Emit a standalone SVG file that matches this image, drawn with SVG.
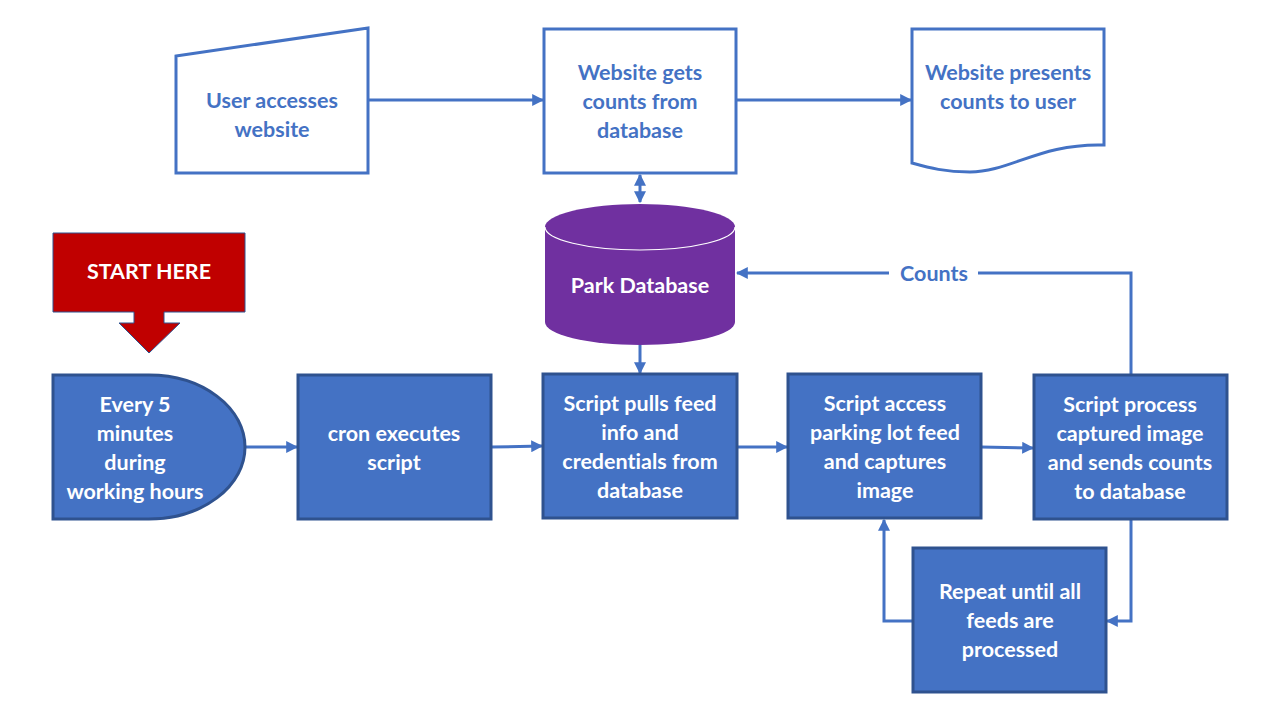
<svg xmlns="http://www.w3.org/2000/svg" width="1280" height="720" viewBox="0 0 1280 720">
<defs>
<style>
.ol{fill:#fff;stroke:#4472C4;stroke-width:3}
.bx{fill:#4472C4;stroke:#2F528F;stroke-width:3}
.tb{font-family:Lato,"Open Sans",sans-serif;font-weight:bold;font-size:21.5px;text-anchor:middle;fill:#4472C4;font-variant-ligatures:none}
.tw{font-family:Lato,"Open Sans",sans-serif;font-weight:bold;font-size:21.5px;text-anchor:middle;fill:#fff;font-variant-ligatures:none}
.cn{fill:none;stroke:#4472C4;stroke-width:3}
</style>
<marker id="ah" viewBox="0 0 10 10" refX="9" refY="5" markerWidth="4" markerHeight="4" orient="auto-start-reverse" markerUnits="strokeWidth">
<path d="M0,0 L10,5 L0,10 z" fill="#4472C4"/>
</marker>
</defs>
<rect width="1280" height="720" fill="#fff"/>

<g id="connectors">
<line class="cn" x1="368" y1="100" x2="543" y2="100" marker-end="url(#ah)"/>
<line class="cn" x1="736" y1="100" x2="911" y2="100" marker-end="url(#ah)"/>
<line class="cn" x1="640" y1="175" x2="640" y2="202" marker-start="url(#ah)" marker-end="url(#ah)"/>
<line class="cn" x1="640" y1="345" x2="640" y2="373" marker-end="url(#ah)"/>
<line class="cn" x1="245" y1="447" x2="297" y2="447" marker-end="url(#ah)"/>
<line class="cn" x1="491" y1="447" x2="542" y2="446" marker-end="url(#ah)"/>
<line class="cn" x1="737" y1="447" x2="787" y2="447" marker-end="url(#ah)"/>
<line class="cn" x1="981" y1="447" x2="1033" y2="448" marker-end="url(#ah)"/>
<polyline class="cn" points="1131,375 1131,273 978,273"/>
<line class="cn" x1="889" y1="273" x2="737" y2="273" marker-end="url(#ah)"/>
<polyline class="cn" points="1131,519 1131,621 1107,621" marker-end="url(#ah)"/>
<polyline class="cn" points="913,621 884,621 884,520" marker-end="url(#ah)"/>
<text class="tb" x="934" y="281">Counts</text>
</g>

<g id="user-accesses">
<path class="ol" d="M176,56 L368,28 L368,173 L176,173 Z"/>
<text class="tb" x="272" y="108">User accesses</text>
<text class="tb" x="272" y="137">website</text>
</g>

<g id="website-gets">
<rect class="ol" x="544" y="29" width="192" height="144"/>
<text class="tb" x="640" y="80">Website gets</text>
<text class="tb" x="640" y="109">counts from</text>
<text class="tb" x="640" y="138">database</text>
</g>

<g id="website-presents">
<path class="ol" d="M912,29 L1104,29 L1104,145 C1040,143 1010,172 970,172 C945,172 930,168 912,163 Z"/>
<text class="tb" x="1008" y="80">Website presents</text>
<text class="tb" x="1008" y="109">counts to user</text>
</g>

<g id="park-database">
<path d="M545,227 A95,23 0 0 1 735,227 L735,322 A95,23 0 0 1 545,322 Z" fill="#7030A0"/>
<path d="M545,227 A95,23 0 0 0 735,227" fill="none" stroke="#fff" stroke-width="1.2"/>
<text class="tw" x="640" y="293">Park Database</text>
</g>

<g id="start-here">
<path d="M53,233 L245,233 L245,312 L164,312 L164,323 L180,323 L149,353 L119,323 L134,323 L134,312 L53,312 Z" fill="#C00000" stroke="#2F528F" stroke-width="1"/>
<text class="tw" x="149" y="279">START HERE</text>
</g>

<g id="every-5-minutes">
<path class="bx" d="M53,375 L149,375 A96,72 0 0 1 149,519 L53,519 Z"/>
<text class="tw" x="135" y="412">Every 5</text>
<text class="tw" x="135" y="441">minutes</text>
<text class="tw" x="135" y="470">during</text>
<text class="tw" x="135" y="499">working hours</text>
</g>

<g id="cron">
<rect class="bx" x="298" y="375" width="193" height="144"/>
<text class="tw" x="394" y="441">cron executes</text>
<text class="tw" x="394" y="470">script</text>
</g>

<g id="script-pulls">
<rect class="bx" x="543" y="374" width="194" height="144"/>
<text class="tw" x="640" y="411">Script pulls feed</text>
<text class="tw" x="640" y="440">info and</text>
<text class="tw" x="640" y="469">credentials from</text>
<text class="tw" x="640" y="498">database</text>
</g>

<g id="script-access">
<rect class="bx" x="788" y="374" width="193" height="144"/>
<text class="tw" x="885" y="411">Script access</text>
<text class="tw" x="885" y="440">parking lot feed</text>
<text class="tw" x="885" y="469">and captures</text>
<text class="tw" x="885" y="498">image</text>
</g>

<g id="script-process">
<rect class="bx" x="1034" y="375" width="193" height="144"/>
<text class="tw" x="1130" y="412">Script process</text>
<text class="tw" x="1130" y="441">captured image</text>
<text class="tw" x="1130" y="470">and sends counts</text>
<text class="tw" x="1130" y="499">to database</text>
</g>

<g id="repeat">
<rect class="bx" x="913" y="548" width="193" height="144"/>
<text class="tw" x="1010" y="599">Repeat until all</text>
<text class="tw" x="1010" y="628">feeds are</text>
<text class="tw" x="1010" y="657">processed</text>
</g>
</svg>
